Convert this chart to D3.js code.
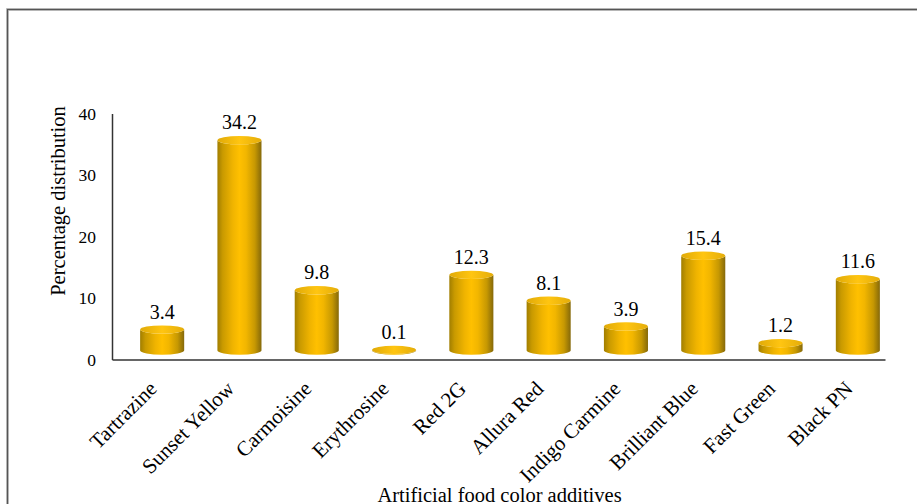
<!DOCTYPE html>
<html>
<head>
<meta charset="utf-8">
<script src="https://cdn.jsdelivr.net/npm/d3@7/dist/d3.min.js"></script>
<style>
  html, body { margin: 0; padding: 0; background: #ffffff; }
  svg { display: block; }
</style>
</head>
<body>
<svg id="chart" width="917" height="504"></svg>
<script>
// Share of each artificial food colour additive (%)
const categories = ["Tartrazine", "Sunset Yellow", "Carmoisine", "Erythrosine", "Red 2G",
                    "Allura Red", "Indigo Carmine", "Brilliant Blue", "Fast Green", "Black PN"];
const values = [3.4, 34.2, 9.8, 0.1, 12.3, 8.1, 3.9, 15.4, 1.2, 11.6];
const yTicks = [0, 10, 20, 30, 40];
const xTitle = "Artificial food color additives";
const yTitle = "Percentage distribution";

const FONT = "'Liberation Serif', 'Times New Roman', serif";
const svg = d3.select("#chart").attr("font-family", FONT);

// outer frame of the chart area (runs off the right and bottom edges)
svg.append("rect")
  .attr("x", 7.5).attr("y", 9.5)
  .attr("width", 960).attr("height", 560)
  .attr("fill", "none")
  .attr("stroke", "#c8c8c8").attr("stroke-width", 3);
svg.append("rect")
  .attr("x", 7.5).attr("y", 9.5)
  .attr("width", 960).attr("height", 560)
  .attr("fill", "none")
  .attr("stroke", "#555").attr("stroke-width", 1.3);

const plot = { left: 112, right: 885, top: 113.5, bottom: 359.5 };

const x = d3.scaleBand()
  .domain(categories)
  .range([plot.left, plot.right])
  .paddingInner(0.43)
  .paddingOuter(0.215);

const y = d3.scaleLinear()
  .domain([0, 40])
  .range([plot.bottom, plot.top]);

// cylinder shading
const defs = svg.append("defs");
const side = defs.append("linearGradient").attr("id", "cylSide")
  .attr("x1", "0%").attr("x2", "100%").attr("y1", "0%").attr("y2", "0%");
[[0, "#a17e00"], [0.12, "#c99a00"], [0.35, "#f0b400"], [0.5, "#ffc000"],
 [0.65, "#f2b600"], [0.85, "#c69802"], [1, "#85690a"]]
  .forEach(([o, c]) => side.append("stop").attr("offset", o).attr("stop-color", c));
const cap = defs.append("linearGradient").attr("id", "cylTop")
  .attr("x1", "0%").attr("x2", "100%").attr("y1", "0%").attr("y2", "0%");
[[0, "#e0aa08"], [0.5, "#ffc511"], [1, "#e4ad0a"]]
  .forEach(([o, c]) => cap.append("stop").attr("offset", o).attr("stop-color", c));

// axes
const yAxis = d3.axisLeft(y).tickValues(yTicks).tickSize(0).tickPadding(16)
  .tickFormat(d3.format("d"));
const gy = svg.append("g").attr("transform", `translate(${plot.left},0)`).call(yAxis)
  .attr("font-family", FONT).attr("font-size", 17.5);
gy.select(".domain").attr("stroke", "#333").attr("stroke-width", 1.5);
gy.selectAll(".tick text").attr("fill", "#000");

const xAxis = d3.axisBottom(x).tickSize(0).tickFormat("");
const gx = svg.append("g").attr("transform", `translate(0,${plot.bottom})`).call(xAxis);
gx.select(".domain").attr("stroke", "#333").attr("stroke-width", 1.5);

// 3D cylinders: the floor sits behind the axis line, shifted up and to the right
const depthY = 9;
const depthX = 11.5;
const rx = x.bandwidth() / 2;
const ry = 4.2;
const cxOf = c => x(c) + rx + depthX;

// category labels, rotated
svg.append("g").selectAll("text")
  .data(categories).join("text")
  .attr("transform", d => `translate(${cxOf(d) - 4},390) rotate(-45)`)
  .attr("text-anchor", "end")
  .attr("font-size", 21)
  .attr("fill", "#000")
  .text(d => d);

const bars = svg.append("g").selectAll("g")
  .data(categories.map((c, i) => ({ c, v: values[i] })))
  .join("g");

bars.append("path")
  .attr("fill", "url(#cylSide)")
  .attr("d", d => {
    const cx = cxOf(d.c);
    const yb = y(0) - depthY, yt = y(d.v) - depthY;
    return `M${cx - rx},${yt} L${cx - rx},${yb} A${rx},${ry} 0 0 0 ${cx + rx},${yb} ` +
           `L${cx + rx},${yt} A${rx},${ry} 0 0 1 ${cx - rx},${yt} Z`;
  });

bars.append("ellipse")
  .attr("cx", d => cxOf(d.c))
  .attr("cy", d => y(d.v) - depthY)
  .attr("rx", rx).attr("ry", ry)
  .attr("fill", "url(#cylTop)");

// value labels
bars.append("text")
  .attr("x", d => cxOf(d.c))
  .attr("y", d => y(d.v) - depthY - 11)
  .attr("text-anchor", "middle")
  .attr("font-size", 20)
  .attr("fill", "#000")
  .text(d => d.v.toFixed(1));

// axis titles
svg.append("text")
  .attr("x", 499.5).attr("y", 501.5)
  .attr("text-anchor", "middle")
  .attr("font-size", 20.5)
  .attr("fill", "#000")
  .text(xTitle);

svg.append("text")
  .attr("transform", "translate(65,201) rotate(-90)")
  .attr("text-anchor", "middle")
  .attr("font-size", 20.5)
  .attr("fill", "#000")
  .text(yTitle);
</script>
</body>
</html>
